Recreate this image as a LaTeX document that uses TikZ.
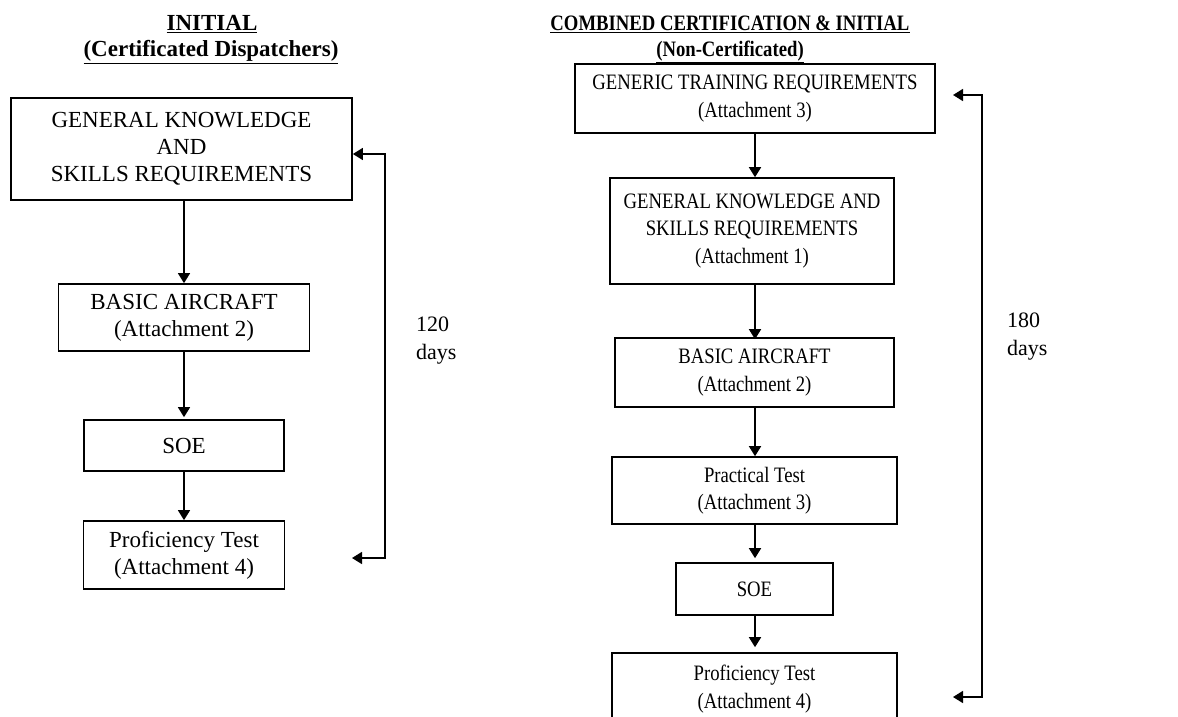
\documentclass[tikz,border=0pt]{standalone}
\usepackage{fontspec}
\setmainfont{Liberation Serif}
\newfontfamily\condfont{Liberation Serif}[FakeStretch=0.85]
\usetikzlibrary{arrows.meta,calc}
\begin{document}
\begin{tikzpicture}[x=1pt,y=-1pt,
  lbox/.style={draw,line width=1.7pt,inner sep=0pt,align=center,
    font=\fontsize{23}{27}\selectfont},
  rbox/.style={draw,line width=1.6pt,inner sep=0pt,align=center,
    font=\condfont\fontsize{22}{27.5}\selectfont},
  arr/.style={line width=1.6pt,-{Triangle[length=10pt,width=12pt]}},
  brk/.style={line width=1.6pt,{Triangle[length=10pt,width=12pt]}-{Triangle[length=10pt,width=12pt]}},
  lhead/.style={font=\bfseries\fontsize{23}{27}\selectfont,inner sep=0pt},
  rhead/.style={font=\condfont\bfseries\fontsize{22}{27}\selectfont,inner sep=0pt},
  lab/.style={align=left,anchor=west,inner sep=0pt,font=\fontsize{22}{28}\selectfont}
]
\useasboundingbox (0,0) rectangle (1178,717);
\clip (0,0) rectangle (1178,717);
\fill[white] (0,0) rectangle (1178,717);

% ---------- left column ----------
\node[lhead] (lh1) at (212,24) {\underline{INITIAL}};
\node[lhead] (lh2) at (211,52) {\underline{(Certificated Dispatchers)}};

\node[lbox,minimum width=341pt,minimum height=102pt] (L1) at (181.5,149)
  {GENERAL KNOWLEDGE\\AND\\SKILLS REQUIREMENTS};
\node[lbox,minimum width=251pt,minimum height=67pt] (L2) at (184,317.5)
  {BASIC AIRCRAFT\\(Attachment 2)};
\node[lbox,minimum width=200pt,minimum height=51pt] (L3) at (184,445.5) {SOE};
\node[lbox,minimum width=201pt,minimum height=68pt] (L4) at (184,555)
  {Proficiency Test\\(Attachment 4)};

\draw[arr] (L2.north |- L1.south) -- (L2.north);
\draw[arr] (L2.south) -- ([yshift=2pt]L3.north);
\draw[arr] (L3.south) -- (L4.north);

\coordinate (lt) at (385,154);
\coordinate (lb) at (385,558);
\coordinate (le) at (352,558);
\draw[brk] (le) -- (lb) -- (lt) -- (lt -| L1.east);
\node[lab] (l120) at (416,341) {120\\days};

% ---------- right column ----------
\node[rhead] (rh1) at (730,24) {\underline{COMBINED CERTIFICATION \& INITIAL}};
\node[rhead] (rh2) at (730,52) {\underline{(Non-Certificated)}};

\node[rbox,minimum width=360pt,minimum height=69pt] (R1) at (755,98.5)
  {GENERIC TRAINING REQUIREMENTS\\(Attachment 3)};
\node[rbox,minimum width=284pt,minimum height=106pt] (R2) at (752,231)
  {GENERAL KNOWLEDGE AND\\SKILLS REQUIREMENTS\\(Attachment 1)};
\node[rbox,minimum width=279pt,minimum height=69pt] (R3) at (754.5,372.5)
  {BASIC AIRCRAFT\\(Attachment 2)};
\node[rbox,minimum width=285pt,minimum height=67pt] (R4) at (754.5,490.5)
  {Practical Test\\(Attachment 3)};
\node[rbox,minimum width=157pt,minimum height=52pt] (R5) at (754.5,589) {SOE};
\node[rbox,minimum width=285pt,minimum height=72pt] (R6) at (754.5,689)
  {Proficiency Test\\(Attachment 4)};

\draw[arr] (R1.south -| 755,0) -- (R2.north -| 755,0);
\draw[arr] (R2.south -| 755,0) -- ([yshift=-2pt]R3.north -| 755,0);
\draw[arr] (R3.south -| 755,0) -- (R4.north -| 755,0);
\draw[arr,shorten >=4pt] (R4.south -| 755,0) -- (R5.north -| 755,0);
\draw[arr,shorten >=5pt] (R5.south -| 755,0) -- (R6.north -| 755,0);

\coordinate (rt) at (982,95);
\coordinate (rb) at (982,697);
\coordinate (rte) at (953,95);
\coordinate (rbe) at (953,697);
\draw[brk] (rbe) -- (rb) -- (rt) -- (rte);
\node[lab] (r180) at (1007,337) {180\\days};
\end{tikzpicture}
\end{document}
